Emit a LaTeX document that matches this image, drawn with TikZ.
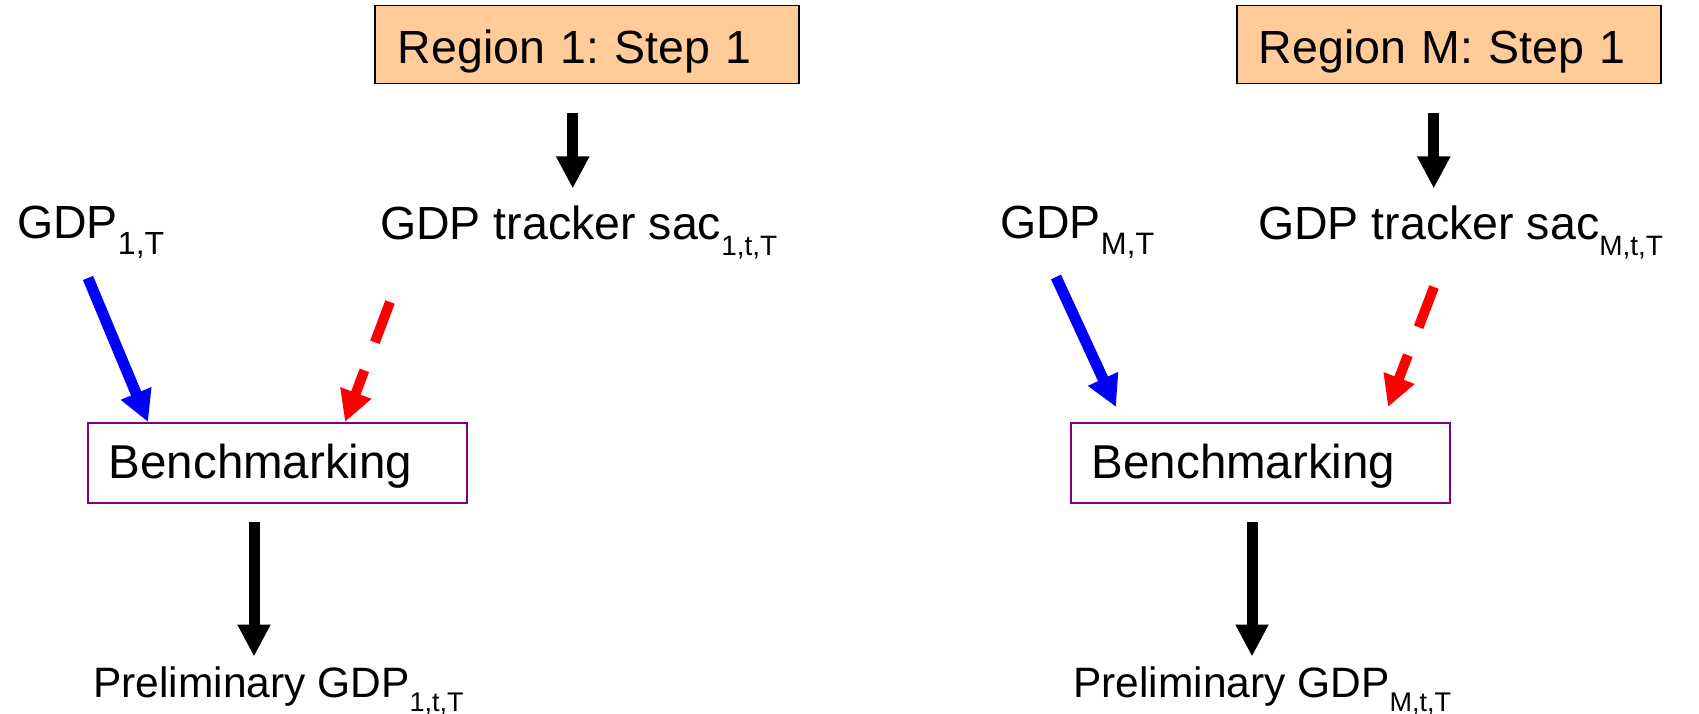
\documentclass[tikz,border=0pt]{standalone}
\usepackage{fontspec}
\setmainfont{Liberation Sans}
\usetikzlibrary{arrows.meta,calc}
\definecolor{peach}{RGB}{255,204,153}
\definecolor{boxpurple}{RGB}{128,0,128}
\newcommand\fsz[1]{\fontsize{#1}{#1}\selectfont}
% lowered index text: [drop]{size}{text}
\newcommand\sbs[3][16pt]{\raisebox{-#1}{\fsz{#2}#3}}
\frenchspacing

\begin{document}
\begin{tikzpicture}[x=1pt,y=-1pt,
  stepbox/.style={draw=black, line width=1.5pt, fill=peach, anchor=north west,
    minimum height=78pt, inner xsep=23pt, inner ysep=0pt, text width=378pt,
    align=left, text height=40pt, text depth=2pt, font=\fsz{46.5pt}},
  benchbox/.style={draw=boxpurple, line width=1.5pt, anchor=north west,
    minimum height=80pt, inner xsep=21pt, inner ysep=0pt, text width=337pt,
    align=left, text height=34pt, text depth=2pt, font=\fsz{47.5pt}},
  lbl/.style={anchor=base west, inner sep=0pt, font=\fsz{46.5pt}},
  outlbl/.style={anchor=base west, inner sep=0pt, font=\fsz{42.5pt}},
  bigarrow/.style={line width=11pt, -{Triangle[width=31pt,length=32pt]}},
  inarrow/.style={line width=11pt, blue, -{Triangle[width=31pt,length=31pt]}},
  dasharrow/.style={line width=10pt, red, dash pattern=on 43pt off 30pt,
    -{Triangle[width=31pt,length=31pt]}}
]
\useasboundingbox (0,0) rectangle (1699,714);

% ---- region 1 ----
\node[stepbox] (r1) at (374,5) {Region 1: Step 1};
\node[lbl] (tr1) at (380,240) {GDP tracker sac\sbs{28pt}{1,t,T}};
\node[lbl] (g1) at (17,238) {GDP\sbs{32pt}{1,T}};
\node[benchbox] (bm1) at (87,422) {Benchmarking};
\node[outlbl] (p1) at (93,697) {Preliminary GDP\sbs[14.5pt]{27pt}{1,t,T}};

\draw[bigarrow] ($(r1.south)+(-14,29)$) -- ($(r1.south)+(-14,104)$);
\draw[inarrow] ($(g1.base west)+(71,40)$) -- ($(bm1.north west)+(61,0)$);
\draw[dasharrow] ($(tr1.base west)+(10,62)$) -- ($(bm1.north west)+(258,0)$);
\draw[bigarrow] ($(bm1.south west)+(167,18)$) -- ($(bm1.south west)+(167,153)$);

% ---- region M ----
\node[stepbox, text width=380pt, inner xsep=22pt] (rM) at (1236,5) {Region M: Step 1};
\node[lbl] (trM) at (1258,240) {GDP tracker sac\sbs{28pt}{M,t,T}};
\node[lbl] (gM) at (1000,238) {GDP\sbs{31pt}{M,T}};
\node[benchbox] (bmM) at (1070,422) {Benchmarking};
\node[outlbl] (pM) at (1073,697) {Preliminary GDP\sbs[14.5pt]{27pt}{M,t,T}};

\draw[bigarrow] ($(rM.south)+(-15,29)$) -- ($(rM.south)+(-15,104)$);
\draw[inarrow] ($(gM.base west)+(56,39)$) -- ($(bmM.north west)+(46,-15)$);
\draw[dasharrow] ($(trM.base west)+(176,47)$) -- ($(bmM.north west)+(318,-15)$);
\draw[bigarrow] ($(bmM.south west)+(182,18)$) -- ($(bmM.south west)+(182,153)$);
\end{tikzpicture}
\end{document}
